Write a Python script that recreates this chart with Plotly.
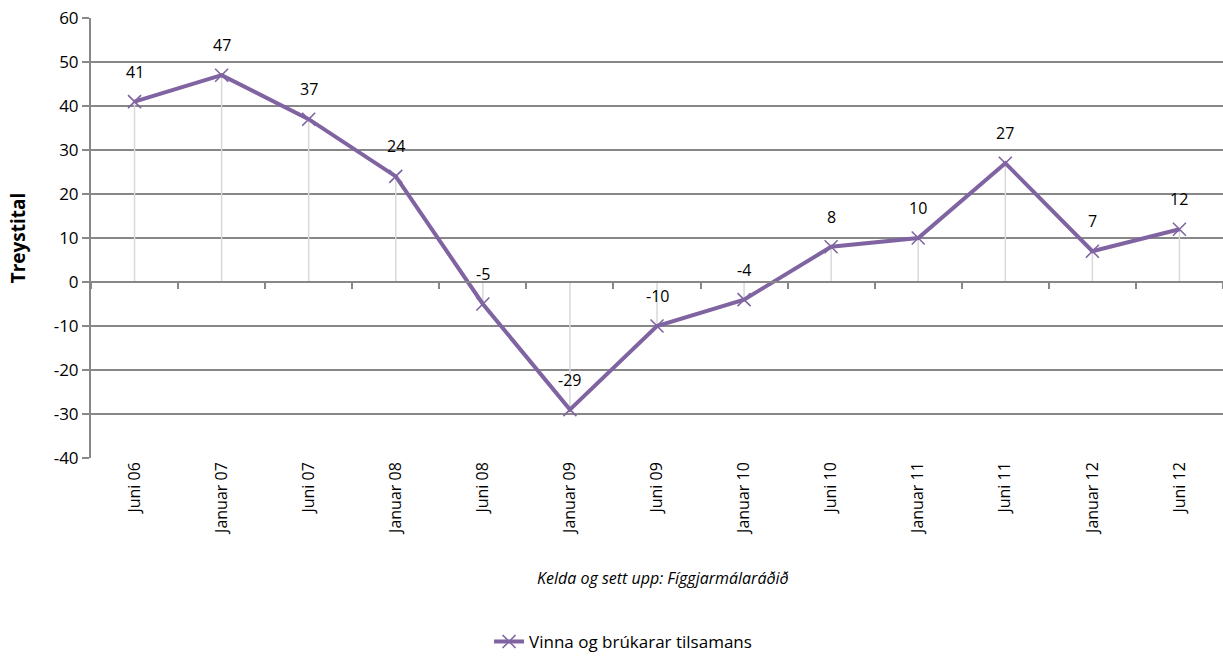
import plotly.graph_objects as go

# Treystital (confidence index), Vinna og brúkarar tilsamans
periods = ["Juni 06", "Januar 07", "Juni 07", "Januar 08", "Juni 08", "Januar 09",
           "Juni 09", "Januar 10", "Juni 10", "Januar 11", "Juni 11", "Januar 12",
           "Juni 12"]
values = [41, 47, 37, 24, -5, -29, -10, -4, 8, 10, 27, 7, 12]

y_ticks = list(range(-40, 61, 10))
y_labels = [str(t) for t in y_ticks]  # plain hyphen minus, as in the source

PURPLE = "#8064A2"
GRID = "#878787"
FONT = "Open Sans, Liberation Sans, sans-serif"

fig = go.Figure()

# drop lines from the zero line to each point
drop_x, drop_y = [], []
for p, v in zip(periods, values):
    drop_x += [p, p, None]
    drop_y += [0, v, None]
fig.add_trace(go.Scatter(
    x=drop_x, y=drop_y, mode="lines",
    line=dict(color="#d9d9d9", width=1.5),
    showlegend=False, hoverinfo="skip",
))

fig.add_trace(go.Scatter(
    x=periods, y=values,
    name="Vinna og brúkarar tilsamans",
    mode="lines+markers",
    line=dict(color=PURPLE, width=4),
    marker=dict(symbol="x-thin", size=13, line=dict(color=PURPLE, width=1.6)),
))

# invisible trace to drive the secondary x-axis (tick marks on the zero line)
fig.add_trace(go.Scatter(
    x=periods, y=values, xaxis="x2", mode="none",
    showlegend=False, hoverinfo="skip",
))

for p, v in zip(periods, values):
    fig.add_annotation(
        x=p, y=v, text=str(v), showarrow=False, yshift=30,
        font=dict(size=16, color="#000000", family=FONT),
    )

fig.add_annotation(
    x=0.505, y=-0.273, xref="paper", yref="paper",
    xanchor="center", yanchor="middle",
    text="<i>Kelda og sett upp: Fíggjarmálaráðið</i>", showarrow=False,
    font=dict(size=16, color="#000000", family=FONT),
)

fig.update_layout(
    width=1223, height=660,
    margin=dict(l=91, r=0, t=18, b=202),
    plot_bgcolor="white", paper_bgcolor="white",
    font=dict(family=FONT, color="#000000"),
    showlegend=True,
    legend=dict(
        orientation="h", x=0.47, xanchor="center", y=-0.418, yanchor="middle",
        font=dict(size=17, family=FONT),
    ),
    xaxis=dict(
        type="category", categoryorder="array", categoryarray=periods,
        showgrid=False, zeroline=False, showline=False, ticks="",
        tickangle=-90, tickfont=dict(size=16), range=[-0.5, len(periods) - 0.5],
    ),
    xaxis2=dict(
        type="category", categoryorder="array", categoryarray=periods,
        overlaying="x", anchor="free", position=0.4, side="bottom",
        showgrid=False, zeroline=False, showline=True, linecolor=GRID, linewidth=2,
        ticks="outside", ticklen=6, tickwidth=2, tickcolor=GRID,
        tickson="boundaries", showticklabels=False, range=[-0.5, len(periods) - 0.5],
    ),
    yaxis=dict(
        range=[-40, 60], tickvals=y_ticks, ticktext=y_labels,
        showgrid=True, gridcolor=GRID, gridwidth=2,
        zeroline=False, showline=True, linecolor=GRID, linewidth=2,
        ticks="outside", ticklen=7, tickwidth=2, tickcolor=GRID,
        tickfont=dict(size=17),
        title=dict(text="<b>Treystital</b>", font=dict(size=19), standoff=23),
    ),
)

# drop the default page margin so the figure sits at the window's top-left corner
fig.write_html(
    "out.html",
    config={"displayModeBar": False},
    post_script="document.body.style.margin = '0';",
)
